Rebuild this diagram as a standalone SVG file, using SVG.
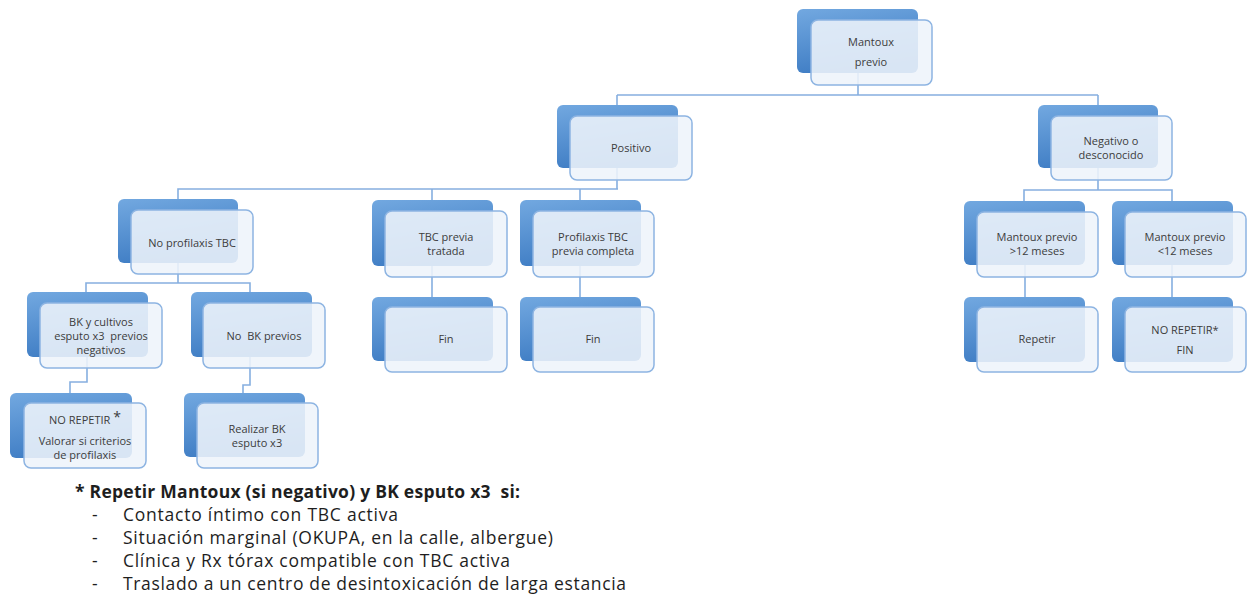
<svg xmlns="http://www.w3.org/2000/svg" width="1247" height="597" viewBox="0 0 1247 597">
<defs>
<linearGradient id="bg" x1="0" y1="0" x2="0.3" y2="1">
<stop offset="0" stop-color="#72a8e0"/>
<stop offset="1" stop-color="#3f7dc4"/>
</linearGradient>
<style>
.back{fill:url(#bg);}
.front{fill:#eef4fb;fill-opacity:0.88;stroke:#8db4e2;stroke-width:1.5;}
.t{font-family:"Open Sans","Liberation Sans",Arial,sans-serif;font-size:11px;fill:#3c3c3c;text-anchor:middle;}
.c{fill:none;stroke:#86afe0;stroke-width:1.6;}
.f{font-family:"Open Sans","Liberation Sans",Arial,sans-serif;font-size:17.5px;fill:#1e1e1e;}
.fb{font-weight:bold;}
</style>
</defs>
<rect width="1247" height="597" fill="#ffffff"/>
<g id="connectors">
<path class="c" d="M858,73 V95 M617,95 H1098 M617,95 V168 V189 M1098,95 V190"/>
<path class="c" d="M178,199 V189 H618 M432,189 V211 M580,189 V211"/>
<path class="c" d="M1024,201 V190 H1172 V201"/>
<path class="c" d="M178,263 V283 M86,292 V283 H250 V292"/>
<path class="c" d="M87,357 V382 H70 V393"/>
<path class="c" d="M250,357 V385 H243 V393"/>
<path class="c" d="M432,266 V297 M580,266 V297"/>
<path class="c" d="M1025,265 V297 M1172,265 V297"/>
</g>
<g id="n-mantoux">
<rect class="back" x="797" y="9" width="121" height="64" rx="6"/>
<rect class="front" x="811" y="20" width="121" height="65" rx="7"/>
<text class="t" x="871" y="46">Mantoux</text>
<text class="t" x="871" y="66">previo</text>
</g>
<g id="n-positivo">
<rect class="back" x="557" y="105" width="121" height="63" rx="6"/>
<rect class="front" x="570" y="116" width="122" height="64" rx="7"/>
<text class="t" x="631" y="152">Positivo</text>
</g>
<g id="n-negativo">
<rect class="back" x="1038" y="105" width="120" height="63" rx="6"/>
<rect class="front" x="1051" y="116" width="121" height="64" rx="7"/>
<text class="t" x="1111" y="145">Negativo o</text>
<text class="t" x="1111" y="159">desconocido</text>
</g>
<g id="n-noprof">
<rect class="back" x="118" y="199" width="120" height="64" rx="6"/>
<rect class="front" x="131" y="210" width="122" height="64" rx="7"/>
<text class="t" x="192" y="247">No profilaxis TBC</text>
</g>
<g id="n-tbcprevia">
<rect class="back" x="372" y="200" width="121" height="66" rx="6"/>
<rect class="front" x="385" y="211" width="122" height="66" rx="7"/>
<text class="t" x="446" y="241">TBC previa</text>
<text class="t" x="446" y="255">tratada</text>
</g>
<g id="n-profprevia">
<rect class="back" x="520" y="200" width="121" height="66" rx="6"/>
<rect class="front" x="533" y="211" width="121" height="66" rx="7"/>
<text class="t" x="593" y="241">Profilaxis TBC</text>
<text class="t" x="593" y="255">previa completa</text>
</g>
<g id="n-mayor12">
<rect class="back" x="964" y="201" width="121" height="64" rx="6"/>
<rect class="front" x="977" y="212" width="121" height="65" rx="7"/>
<text class="t" x="1037" y="241">Mantoux previo</text>
<text class="t" x="1037" y="255">&gt;12 meses</text>
</g>
<g id="n-menor12">
<rect class="back" x="1112" y="201" width="121" height="64" rx="6"/>
<rect class="front" x="1125" y="212" width="121" height="65" rx="7"/>
<text class="t" x="1185" y="241">Mantoux previo</text>
<text class="t" x="1185" y="255">&lt;12 meses</text>
</g>
<g id="n-bkcult">
<rect class="back" x="27" y="292" width="121" height="65" rx="6"/>
<rect class="front" x="40" y="303" width="122" height="65" rx="7"/>
<text class="t" x="101" y="326">BK y cultivos</text>
<text class="t" x="101" y="340" xml:space="preserve">esputo x3  previos</text>
<text class="t" x="101" y="354">negativos</text>
</g>
<g id="n-nobk">
<rect class="back" x="191" y="292" width="121" height="65" rx="6"/>
<rect class="front" x="203" y="303" width="122" height="65" rx="7"/>
<text class="t" x="264" y="340" xml:space="preserve">No  BK previos</text>
</g>
<g id="n-fin1">
<rect class="back" x="372" y="297" width="121" height="64" rx="6"/>
<rect class="front" x="385" y="307" width="122" height="65" rx="7"/>
<text class="t" x="446" y="343">Fin</text>
</g>
<g id="n-fin2">
<rect class="back" x="520" y="297" width="121" height="64" rx="6"/>
<rect class="front" x="533" y="307" width="121" height="65" rx="7"/>
<text class="t" x="593" y="343">Fin</text>
</g>
<g id="n-repetir">
<rect class="back" x="964" y="297" width="121" height="65" rx="6"/>
<rect class="front" x="977" y="307" width="121" height="65" rx="7"/>
<text class="t" x="1037" y="343">Repetir</text>
</g>
<g id="n-norepfin">
<rect class="back" x="1112" y="297" width="121" height="65" rx="6"/>
<rect class="front" x="1125" y="307" width="121" height="65" rx="7"/>
<text class="t" x="1185" y="334">NO REPETIR*</text>
<text class="t" x="1185" y="354">FIN</text>
</g>
<g id="n-norepval">
<rect class="back" x="10" y="393" width="122" height="65" rx="6"/>
<rect class="front" x="24" y="403" width="122" height="65" rx="7"/>
<text class="t" x="85" y="424">NO REPETIR <tspan font-size="14" dy="-2">*</tspan></text>
<text class="t" x="85" y="445">Valorar si criterios</text>
<text class="t" x="85" y="459">de profilaxis</text>
</g>
<g id="n-realizar">
<rect class="back" x="184" y="393" width="121" height="64" rx="6"/>
<rect class="front" x="197" y="403" width="121" height="65" rx="7"/>
<text class="t" x="257" y="433">Realizar BK</text>
<text class="t" x="257" y="447">esputo x3</text>
</g>
<g id="footer">
<text class="f fb" x="75" y="498" textLength="445" xml:space="preserve">* Repetir Mantoux (si negativo) y BK esputo x3  si:</text>
<text class="f" x="92" y="521">-</text>
<text class="f" x="123" y="521" textLength="275">Contacto íntimo con TBC activa</text>
<text class="f" x="92" y="544">-</text>
<text class="f" x="123" y="544" textLength="430">Situación marginal (OKUPA, en la calle, albergue)</text>
<text class="f" x="92" y="567">-</text>
<text class="f" x="123" y="567" textLength="387">Clínica y Rx tórax compatible con TBC activa</text>
<text class="f" x="92" y="590">-</text>
<text class="f" x="123" y="590" textLength="503">Traslado a un centro de desintoxicación de larga estancia</text>
</g>
</svg>
